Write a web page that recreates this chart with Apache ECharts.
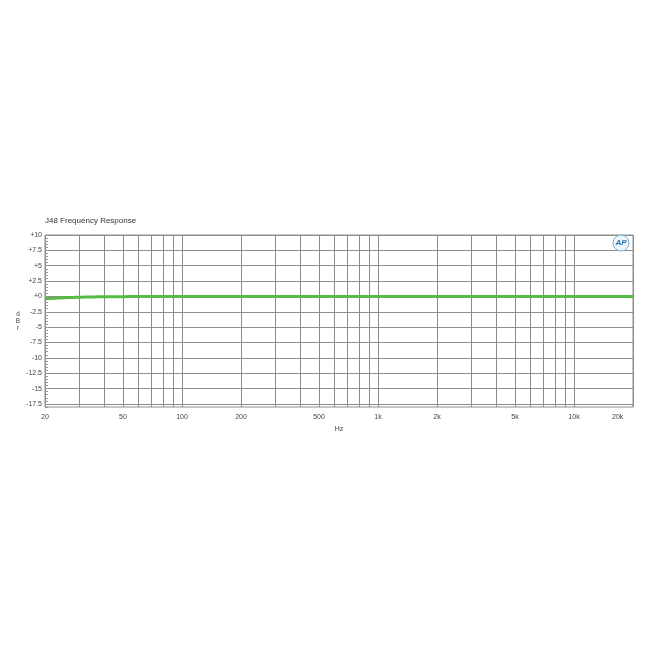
<!DOCTYPE html>
<html>
<head>
<meta charset="utf-8">
<script src="https://cdn.jsdelivr.net/npm/echarts@6/dist/echarts.min.js"></script>
<style>html,body{margin:0;padding:0;background:#fff;}#c{width:650px;height:650px;}</style>
</head>
<body>
<div id="c"></div>
<script>
// ---- data ----
var freqs = [20, 22, 25, 28, 30, 35, 40, 50, 60, 70, 80, 100, 200, 500, 1000, 2000, 5000, 10000, 15000, 20000];
var levelDb = [-0.35, -0.3, -0.22, -0.16, -0.13, -0.09, -0.06, -0.04, -0.02, -0.01, -0.01, 0, 0, 0, 0, 0, 0, 0, 0, 0];
var xLabelFreqs = [20, 50, 100, 200, 500, 1000, 2000, 5000, 10000, 20000];
var xLabelTexts = ['20', '50', '100', '200', '500', '1k', '2k', '5k', '10k', '20k'];
var xGridFreqs = [20, 30, 40, 50, 60, 70, 80, 90, 100, 200, 300, 400, 500, 600, 700, 800, 900,
  1000, 2000, 3000, 4000, 5000, 6000, 7000, 8000, 9000, 10000, 20000];
var yTicks = [-17.5, -15, -12.5, -10, -7.5, -5, -2.5, 0, 2.5, 5, 7.5, 10];
var yLabelTexts = ['-17.5', '-15', '-12.5', '-10', '-7.5', '-5', '-2.5', '+0', '+2.5', '+5', '+7.5', '+10'];

var lg = function (f) { return Math.log10(f); };
var xMin = lg(20), xMax = lg(20000);
var gridColor = '#8c8c8c';
var fontFam = '"Liberation Sans", Arial, sans-serif';

var chart = echarts.init(document.getElementById('c'));
chart.setOption({
  backgroundColor: '#ffffff',
  animation: false,
  title: {
    text: 'J48 Frequency Response',
    left: 40, top: 212,
    textStyle: { fontSize: 8, fontWeight: 'normal', color: '#333', fontFamily: fontFam }
  },
  grid: { left: 45, right: 17, top: 235, bottom: 243, show: true, borderColor: gridColor, borderWidth: 1 },
  xAxis: {
    type: 'value', min: xMin, max: xMax,
    name: 'Hz', nameLocation: 'middle', nameGap: 19,
    nameTextStyle: { fontSize: 7, color: '#444', fontFamily: fontFam },
    axisLine: { show: false },
    axisTick: { show: false, customValues: xGridFreqs.map(lg) },
    splitLine: { show: true, lineStyle: { color: gridColor, width: 1 } },
    axisLabel: {
      customValues: xLabelFreqs.map(lg),
      alignMaxLabel: 'right',
      fontSize: 7, color: '#444', fontFamily: fontFam, margin: 7,
      formatter: function (v) {
        var best = 0, d = 1e9;
        for (var i = 0; i < xLabelFreqs.length; i++) {
          var dd = Math.abs(lg(xLabelFreqs[i]) - v);
          if (dd < d) { d = dd; best = i; }
        }
        return xLabelTexts[best] + (best === xLabelFreqs.length - 1 ? '     ' : '');
      }
    }
  },
  yAxis: [{
    type: 'value', min: -18, max: 10,
    name: 'd\nB\nr', nameLocation: 'middle', nameGap: 24, nameRotate: 0,
    nameTextStyle: { fontSize: 6.5, lineHeight: 7, color: '#444', fontFamily: fontFam, align: 'center' },
    axisLine: { show: false },
    axisTick: { show: false, customValues: yTicks },
    splitLine: { show: true, lineStyle: { color: gridColor, width: 1 } },
    axisLabel: {
      customValues: yTicks,
      fontSize: 7, color: '#444', fontFamily: fontFam, margin: 3,
      formatter: function (v) {
        for (var i = 0; i < yTicks.length; i++) {
          if (Math.abs(yTicks[i] - v) < 1e-6) return yLabelTexts[i];
        }
        return '';
      }
    }
  }, {
    type: 'value', min: -18, max: 10, interval: 0.5, position: 'left',
    axisLine: { show: false },
    axisTick: { show: true, inside: true, length: 3, lineStyle: { color: '#999' } },
    axisLabel: { show: false },
    splitLine: { show: false }
  }],
  graphic: [{
    type: 'circle', shape: { cx: 621, cy: 243, r: 8 },
    style: { fill: '#eef5fb', stroke: '#7ab0d8', lineWidth: 1 }, z: 100
  }, {
    type: 'text', x: 621, y: 243,
    style: { text: 'AP', fill: '#2c6fb5', font: 'italic bold 8px ' + fontFam, align: 'center', verticalAlign: 'middle' }, z: 101
  }],
  series: [{
    type: 'line', xAxisIndex: 0, yAxisIndex: 0,
    data: freqs.map(function (f, i) { return [lg(f), levelDb[i]]; }),
    smooth: true, showSymbol: false, symbol: 'none',
    lineStyle: { color: '#55bb44', width: 3 },
    z: 5
  }]
});
</script>
</body>
</html>
